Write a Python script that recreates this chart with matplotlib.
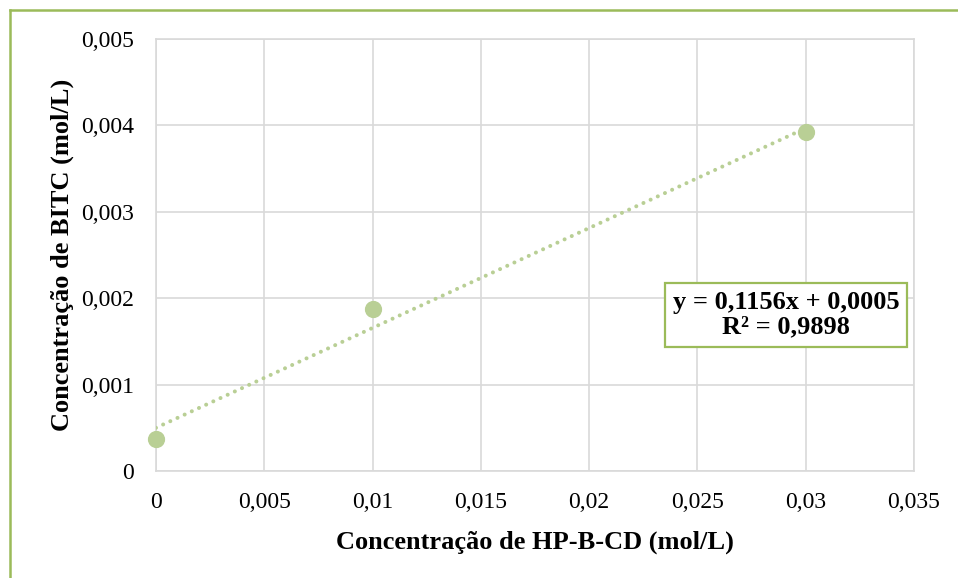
import numpy as np
import matplotlib.pyplot as plt
from matplotlib.lines import Line2D

# Data
hpbcd = [0.0, 0.01, 0.03]            # Concentração de HP-B-CD (mol/L)
bitc = [0.000365, 0.00187, 0.003925]  # Concentração de BITC (mol/L)
slope = 0.1156
intercept = 0.0005
r2 = 0.9898

xticks = [0, 0.005, 0.01, 0.015, 0.02, 0.025, 0.03, 0.035]
yticks = [0, 0.001, 0.002, 0.003, 0.004, 0.005]

plt.rcParams['font.family'] = ['Liberation Serif', 'DejaVu Serif']

green = '#b9cf95'
grid_c = '#d9d9d9'
border_c = '#9bbb59'

fig = plt.figure(figsize=(9.58, 5.78), dpi=100)
ax = fig.add_axes([0.1628, 0.1851, 0.7912, 0.7474])

# Trendline
xt = np.array([hpbcd[0], hpbcd[-1]])
ax.plot(xt, slope * xt + intercept, color=green, lw=2.9,
        linestyle=(0, (0.01, 1.95)), dash_capstyle='round', zorder=3)
ax.scatter(hpbcd, bitc, s=130, color=green, zorder=4, clip_on=False)

ax.set_xlim(0, 0.035)
ax.set_ylim(0, 0.005)
ax.set_xticks(xticks)
ax.set_yticks(yticks)
fmt = lambda v: '0' if v == 0 else ('%g' % v).replace('.', ',')
ax.set_xticklabels([fmt(v) for v in xticks])
ax.set_yticklabels([fmt(v) for v in yticks])
ax.tick_params(length=0, labelsize=17)
ax.tick_params(axis='x', pad=15)
ax.tick_params(axis='y', pad=16)
ax.grid(True, color=grid_c, lw=1.2)
ax.set_axisbelow(True)
for s in ax.spines.values():
    s.set_color(grid_c)
    s.set_linewidth(1.2)

ax.set_xlabel('Concentração de HP-B-CD (mol/L)', fontsize=19,
              fontweight='bold', labelpad=13)
ax.set_ylabel('Concentração de BITC (mol/L)', fontsize=19,
              fontweight='bold', labelpad=5)

ax.text(0.02909, 0.001806,
        'y = %s' % ('%.4fx + %.4f' % (slope, intercept)).replace('.', ',')
        + '\nR² = ' + ('%.4f' % r2).replace('.', ','),
        ha='center', va='center', fontsize=19, fontweight='bold',
        linespacing=1.07,
        bbox=dict(boxstyle='square,pad=0.3', fc='white', ec=border_c, lw=1.6),
        zorder=5)

# Outer chart border (left and top edges visible)
fig.add_artist(Line2D([10 / 958, 10 / 958], [0, 1 - 10 / 578],
                      transform=fig.transFigure, color=border_c, lw=1.8))
fig.add_artist(Line2D([10 / 958, 1], [1 - 10 / 578, 1 - 10 / 578],
                      transform=fig.transFigure, color=border_c, lw=1.8))

fig.savefig('out.png', dpi=100)
